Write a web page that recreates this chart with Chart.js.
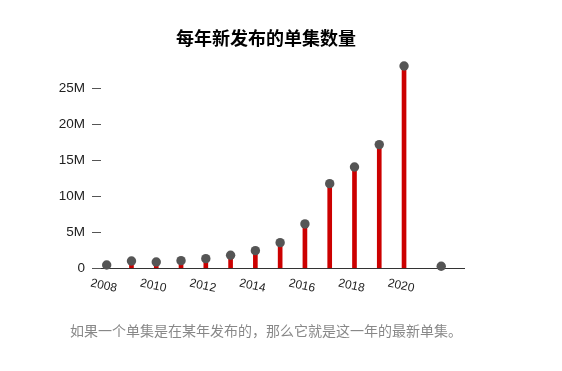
<!DOCTYPE html>
<html>
<head>
<meta charset="utf-8">
<script src="https://cdn.jsdelivr.net/npm/chart.js@4"></script>
<style>
  html, body { margin: 0; padding: 0; background: #fff; }
</style>
</head>
<body>
<canvas id="chart" width="562" height="371"></canvas>
<script>
// episodes released per year (millions)
const years = [2008, 2009, 2010, 2011, 2012, 2013, 2014, 2015, 2016, 2017, 2018, 2019, 2020, 2021.5];
const episodes = [0.46, 1.02, 0.88, 1.06, 1.34, 1.81, 2.45, 3.56, 6.16, 11.76, 14.07, 17.18, 28.1, 0.28];
const xTicks = [2008, 2010, 2012, 2014, 2016, 2018, 2020];
const yTicks = [0, 5, 10, 15, 20, 25];

const titleText = '每年新发布的单集数量';
const noteText = '如果一个单集是在某年发布的，那么它就是这一年的最新单集。';

const points = years.map((x, i) => ({ x, y: episodes[i] }));

const latinFont = '"Liberation Sans", Arial, Helvetica, sans-serif';
const cjkFont = '"Noto Sans CJK SC", "Noto Sans", sans-serif';

// x labels lean the other way from what chart.js does, so draw them here
const yearLabels = {
    id: 'yearLabels',
    afterLayout(chart) {
        // y labels stick out past the left padding, widen their clip box
        chart.scales.y.left -= 30;
    },
    afterDraw(chart) {
        const { ctx } = chart;
        const x = chart.scales.x;
        ctx.save();
        ctx.font = '12px ' + latinFont;
        ctx.fillStyle = '#222';
        ctx.textAlign = 'center';
        ctx.textBaseline = 'middle';
        for (const t of x.ticks) {
            ctx.save();
            ctx.translate(x.getPixelForValue(t.value) - 3, x.top + 17.5);
            ctx.rotate(12 * Math.PI / 180);
            ctx.fillText(String(t.value), 0, 0);
            ctx.restore();
        }
        ctx.restore();
    },
};

new Chart(document.getElementById('chart'), {
    type: 'bar',
    data: {
        datasets: [
            {
                type: 'scatter',
                data: points,
                pointRadius: 4.7,
                pointHoverRadius: 4.7,
                backgroundColor: '#555555',
                borderWidth: 0,
                clip: false,
            },
            {
                type: 'bar',
                data: points,
                backgroundColor: '#cc0000',
                barThickness: 4,
                grouped: false,
            },
        ],
    },
    options: {
        responsive: false,
        animation: false,
        layout: {
            padding: { left: 67.5, right: 97.5, top: 0, bottom: 0 },
        },
        plugins: {
            legend: { display: false },
            tooltip: { enabled: false },
            title: {
                display: true,
                text: titleText,
                color: '#000',
                font: { family: cjkFont, size: 18, weight: 'bold' },
                padding: { top: 27.2, bottom: 3.5 },
            },
            subtitle: {
                display: true,
                position: 'bottom',
                text: noteText,
                color: '#888888',
                font: { family: cjkFont, size: 14, weight: 'normal' },
                padding: { top: 24.3, bottom: 31.6 },
            },
        },
        scales: {
            x: {
                type: 'linear',
                min: 2007.77,
                max: 2022.44,
                offset: false,
                grid: { display: false },
                border: { display: true, color: '#333', width: 1 },
                ticks: { display: false },
                afterBuildTicks: (axis) => {
                    axis.ticks = xTicks.map((value) => ({ value }));
                },
                afterFit: (axis) => {
                    axis.height = 30;
                },
            },
            y: {
                min: 0,
                max: 30,
                grid: {
                    drawOnChartArea: false,
                    drawTicks: true,
                    tickLength: 9,
                    color: '#555',
                },
                border: { display: false },
                ticks: {
                    padding: 7,
                    color: '#222',
                    font: { family: latinFont, size: 13.5 },
                    callback: (v) => (v === 0 ? '0' : v + 'M'),
                },
                afterBuildTicks: (axis) => {
                    axis.ticks = yTicks.map((value) => ({ value }));
                },
                afterFit: (axis) => {
                    axis.width = 33.5;
                },
            },
        },
    },
    plugins: [yearLabels],
});
</script>
</body>
</html>
